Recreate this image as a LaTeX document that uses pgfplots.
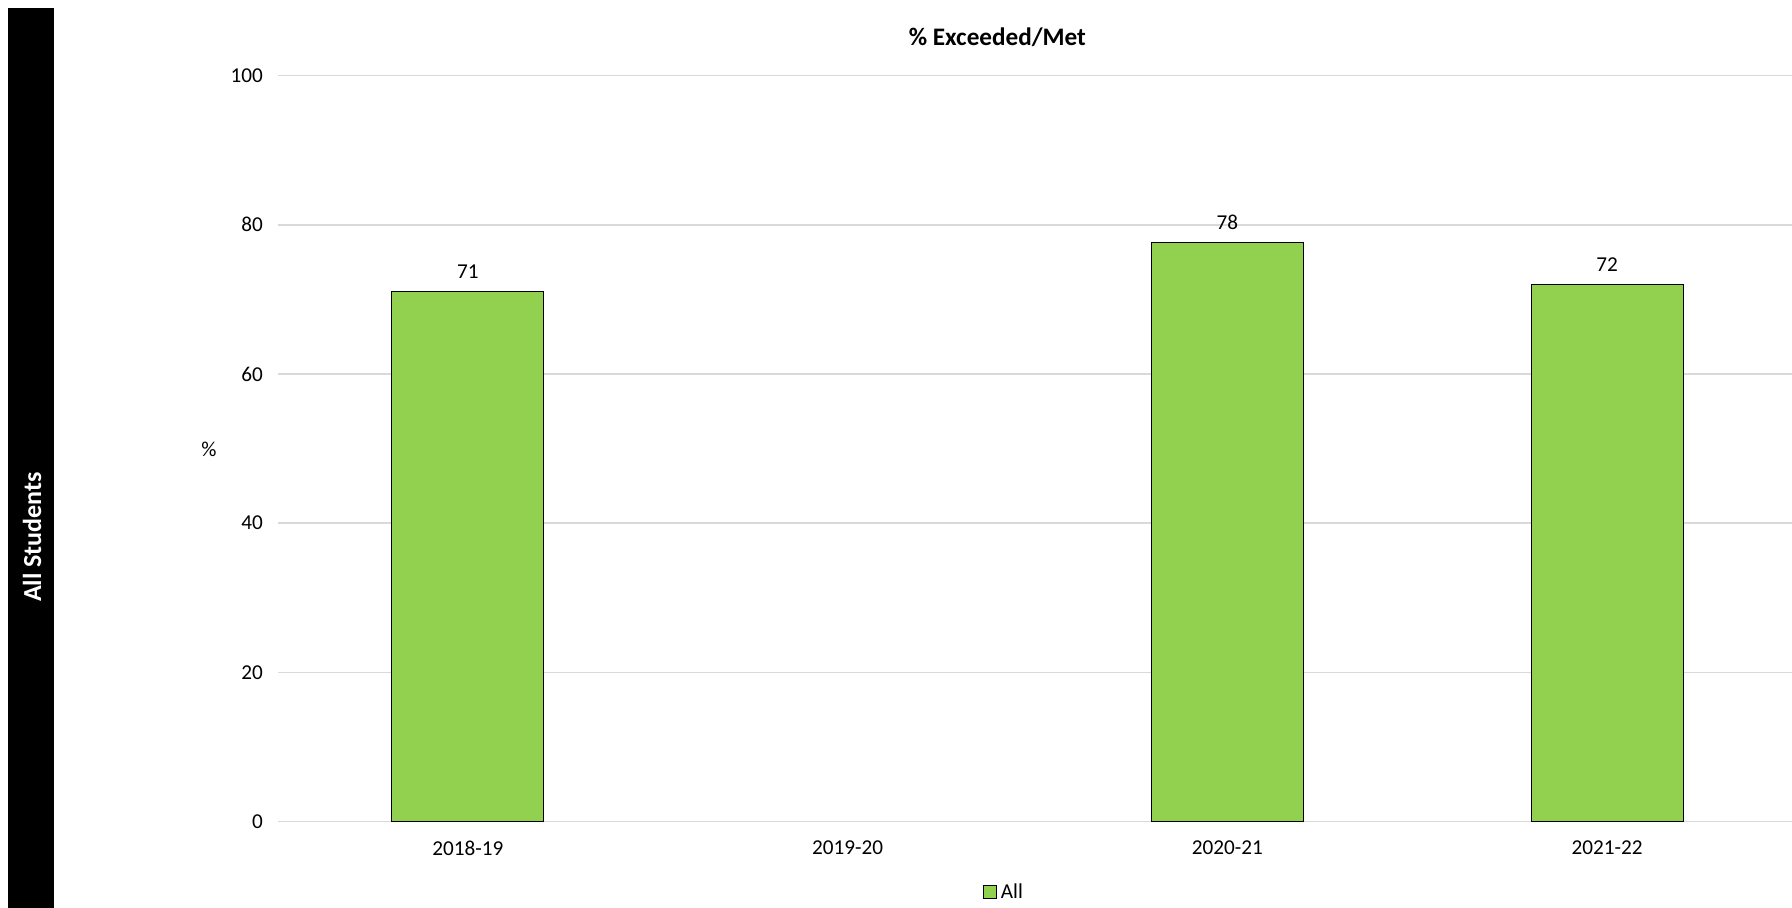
\documentclass[border=0pt]{standalone}
\usepackage{fontspec}
\setmainfont{Carlito}
\usepackage{pgfplots}
\pgfplotsset{compat=1.18}
\definecolor{barg}{RGB}{146,208,80}
\definecolor{gridg}{RGB}{217,217,217}
\begin{document}
\begin{tikzpicture}[x=1pt,y=1pt]
\useasboundingbox (0,0) rectangle (896,454);
\fill[black] (4,0) rectangle (27,450);
\node[rotate=90,text=white,font=\bfseries\fontsize{13}{15}\selectfont] at (16,185.5) {All Students};
\node[font=\bfseries\fontsize{12.6}{15}\selectfont] at (498.7,435.6) {\% Exceeded/Met};
\node[font=\fontsize{10.6}{12}\selectfont] at (104.5,229.5) {\%};
\begin{axis}[
  at={(139pt,43.2pt)}, anchor=south west,
  scale only axis, width=759.5pt, height=373pt,
  xmin=-0.5, xmax=3.5, ymin=0, ymax=100,
  xtick={0,1,2,3}, xticklabels={2018-19,2019-20,2020-21,2021-22},
  ytick={0,20,...,100},
  major tick length=0pt,
  axis line style={draw=none},
  ymajorgrids, grid style={gridg, line width=0.75pt},
  tick label style={font=\fontsize{10.6}{12}\selectfont},
  xticklabel style={yshift=-6pt},
  yticklabel style={xshift=-4pt},
  /pgf/number format/assume math mode=true,
  ybar, bar width=76pt,
  nodes near coords,
  nodes near coords style={font=\fontsize{10.6}{12}\selectfont, /pgf/number format/fixed, /pgf/number format/precision=0, yshift=3pt},
  legend style={at={(axis description cs:0.477,0)}, anchor=center, xshift=1.2pt, yshift=-35.4pt, draw=none, fill=none, font=\fontsize{10.6}{12}\selectfont, inner sep=0pt},
  legend image code/.code={\draw[#1] (0pt,-3.2pt) rectangle (6.4pt,3.2pt);},
  legend cell align=left,
]
\addplot[fill=barg, draw=black, line width=0.5pt] coordinates {(0,71.1) (2,77.6) (3,72.0)};
\legend{All}
\end{axis}
\end{tikzpicture}
\end{document}
